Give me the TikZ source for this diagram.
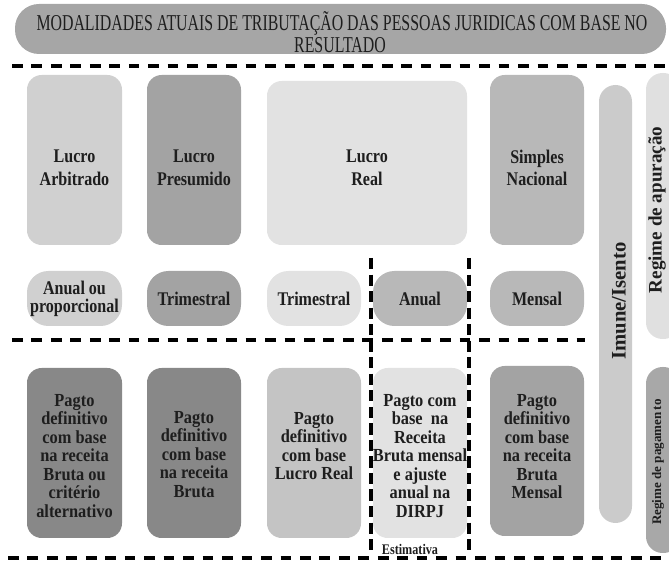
\documentclass[tikz,border=0pt]{standalone}
\usepackage{fontspec}
\setmainfont{Liberation Serif}[FakeStretch=0.83]
\newfontfamily\widefont{Liberation Serif}
\newfontfamily\payfont{Liberation Serif}[FakeStretch=0.89]
\newfontfamily\titlefont{Liberation Serif}[FakeStretch=0.7]

\definecolor{gTitle}{HTML}{A6A6A6}
\definecolor{gA}{HTML}{D0D0D0}
\definecolor{gB}{HTML}{A3A3A3}
\definecolor{gC}{HTML}{E2E2E2}
\definecolor{gD}{HTML}{B8B8B8}
\definecolor{gImune}{HTML}{CBCBCB}
\definecolor{gApur}{HTML}{E0E0E0}
\definecolor{gPag}{HTML}{A8A8A8}
\definecolor{gDark}{HTML}{888888}
\definecolor{gReal}{HTML}{C4C4C4}
\definecolor{ink}{HTML}{1E1E1E}

\tikzset{
  sz/.style 2 args={minimum width=#1*0.75pt, minimum height=#2*0.75pt},
  cell/.style={rounded corners=11pt, inner sep=0pt},
  pill/.style={rounded corners=16pt, inner sep=0pt, align=center, text=ink,
    font=\fontsize{14.5}{13.6}\selectfont\bfseries},
  celltext/.style={inner sep=0pt, align=center, text=ink,
    font=\fontsize{14.5}{17}\selectfont\bfseries},
  paytext/.style={inner sep=0pt, align=center, text=ink,
    font=\payfont\fontsize{13.8}{13.9}\selectfont\bfseries},
  titletext/.style={inner sep=0pt, anchor=base, text=ink,
    font=\titlefont\fontsize{17}{18}\selectfont},
  sidebar/.style={rounded corners=12.4pt, inner sep=0pt},
  sidetext/.style={rotate=90, inner sep=0pt, text=ink},
  hsep/.style={line width=3pt, dash pattern=on 8pt off 6.6pt},
  vsep/.style={line width=2.4pt, dash pattern=on 8.4pt off 4pt},
}

\begin{document}
\begin{tikzpicture}[x=0.75pt,y=-0.75pt]
\useasboundingbox (0,0) rectangle (669,563);

% heading
\node[fill=gTitle, rounded corners=18pt, sz={651}{50}, inner sep=0pt] (title) at (340.5,29) {};
\node[titletext] (titleA) at (342,31) {MODALIDADES ATUAIS DE TRIBUTAÇÃO DAS PESSOAS JURIDICAS COM BASE NO};
\node[titletext] (titleB) at (340,52.5) {RESULTADO};

% modalities
\node[cell, fill=gA, sz={95}{170}] (arb) at (74.5,160) {};
\node[cell, fill=gB, sz={94}{170}] (pre) at (194,160) {};
\node[cell, fill=gC, sz={200}{164}] (real) at (367,163) {};
\node[cell, fill=gD, sz={94}{170}] (simp) at (537,160) {};
\node[celltext] (arbTxt) at (74.5,168) {Lucro\\Arbitrado};
\node[celltext] (preTxt) at (194,168) {Lucro\\Presumido};
\node[celltext] (realTxt) at (367,168) {Lucro\\Real};
\node[celltext] (simpTxt) at (537,168) {Simples\\Nacional};

% periods
\node[pill, fill=gA, sz={95}{55}] (pArb) at (74.5,298.5) {Anual ou\\proporcional};
\node[pill, fill=gB, sz={94}{55}] (pPre) at (194,298.5) {Trimestral};
\node[pill, fill=gC, sz={94}{55}] (pRealT) at (314,298.5) {Trimestral};
\node[pill, fill=gD, sz={94}{55}] (pRealA) at (420,298.5) {Anual};
\node[pill, fill=gD, sz={94}{55}] (pSimp) at (537,298.5) {Mensal};

% payment regimes
\node[cell, fill=gDark, sz={95}{170}] (qArb) at (74.5,453) {};
\node[cell, fill=gDark, sz={94}{170}] (qPre) at (194,453) {};
\node[cell, fill=gReal, sz={94}{170}] (qRealT) at (314,453) {};
\node[cell, fill=gC, sz={94}{170}] (qRealA) at (420,453) {};
\node[cell, fill=gB, sz={94}{170}] (qSimp) at (537,451) {};
\node[paytext] (qArbTxt) at (74.5,456)
  {Pagto\\definitivo\\com base\\na receita\\Bruta ou\\critério\\alternativo};
\node[paytext] (qPreTxt) at (194,454.5)
  {Pagto\\definitivo\\com base\\na receita\\Bruta};
\node[paytext] (qRealTTxt) at (314,446)
  {Pagto\\definitivo\\com base\\Lucro Real};
\node[paytext] (qRealATxt) at (420,456)
  {Pagto com\\base~~na\\Receita\\Bruta mensal\\e ajuste\\anual na\\DIRPJ};
\node[paytext] (qSimpTxt) at (537,446.5)
  {Pagto\\definitivo\\com base\\na receita\\Bruta\\Mensal};
\node[inner sep=0pt, text=ink, font=\fontsize{11}{12}\selectfont\bfseries] (est) at (410,549) {Estimativa};

% side bars
\node[sidebar, fill=gImune, sz={33}{438}] (imune) at (615.5,304) {};
\node[sidetext, font=\widefont\fontsize{15.5}{16}\selectfont\bfseries] (imuneTxt) at (619,301) {Imune/Isento};
\node[sidebar, fill=gApur, sz={34}{266}] (apur) at (663,206) {};
\node[sidetext, font=\widefont\fontsize{14.3}{16}\selectfont\bfseries] (apurTxt) at (657,210) {Regime de apuração};
\node[sidebar, fill=gPag, sz={34}{186}] (pag) at (663,460) {};
\node[sidetext, font=\widefont\fontsize{9.8}{12}\selectfont\bfseries] (pagTxt) at (658,462) {Regime de pagamen\,to};

% separators
\coordinate (t1) at (12,66);   \coordinate (t2) at (669,66);
\coordinate (m1) at (12,340);  \coordinate (m2) at (585,340);
\coordinate (b1) at (8,558);   \coordinate (b2) at (669,558);
\coordinate (v1a) at (371,258); \coordinate (v1b) at (371,553);
\coordinate (v2a) at (469,258); \coordinate (v2b) at (469,553);
\draw[hsep] (t1) -- (t2);
\draw[hsep] (m1) -- (m2);
\draw[hsep] (b1) -- (b2);
\draw[vsep] (v1a) -- (v1b);
\draw[vsep] (v2a) -- (v2b);
\end{tikzpicture}
\end{document}
